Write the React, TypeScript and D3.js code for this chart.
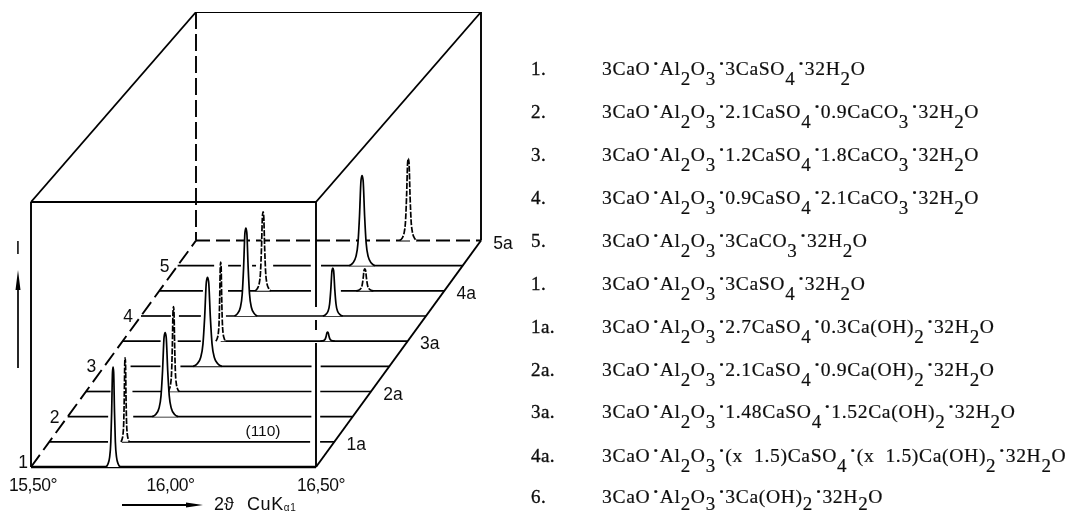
import React from "react";
import * as d3 from "d3";

const W = 1072, H = 515;
const INK = "#000";

// Stack: one trace per depth row, front (0) to back (9)
const rowDepths = [0, 1, 2, 3, 4, 5, 6, 7, 8, 9];

// Peaks (2theta in degrees, intensity in arbitrary units)
const peakRows = [0, 1, 2, 3, 4, 5, 5, 6, 6, 7, 7, 8, 9];
const peakAngles = [15.788, 15.766, 15.842, 15.807, 15.862, 15.844, 16.219, 15.868, 16.173, 15.864, 16.221, 16.147, 16.245];
const peakHeights = [100, 84, 84, 85, 89, 79, 9, 88, 48, 79, 22, 90, 82];
const peakDashed = [false, true, false, true, false, true, false, false, false, true, true, false, true];
const peakSpread = [1, 0.6, 1.8, 0.8, 2, 0.7, 1, 1.6, 1.4, 1.1, 1.2, 1.8, 1.2];

// Shared peak profile
const profileOffsets = [-0.025, -0.018, -0.012, -0.008, -0.005, -0.002, 0, 0.002, 0.005, 0.008, 0.012, 0.018, 0.025];
const profileLevels = [0, 0.03, 0.1, 0.25, 0.55, 0.95, 1, 0.95, 0.55, 0.25, 0.1, 0.03, 0];

// Breaks in each baseline, degrees
const rowGaps: number[][][] = [
  [],
  [[15.706, 15.755], [16.415, 16.45]],
  [[15.642, 15.73], [16.355, 16.386]],
  [[15.586, 15.663], [16.291, 16.322]],
  [[15.5, 15.592], [15.697, 15.767], [16.227, 16.259]],
  [[15.633, 15.693], [15.774, 15.844]],
  [[15.605, 15.633], [15.71, 15.798]],
  [[15.653, 15.741], [16.032, 16.137]],
  [[15.628, 15.677], [15.722, 15.761], [15.775, 15.835], [15.967, 16.003]],
  [],
];

const angleMin = 15.5, angleMax = 16.5, depthMax = 9;
const frontBoxTop = 265, backBoxTop = 228.5;

const axisTickAngles = [15.5, 16.0, 16.5];
const axisTickLabels = ["15,50°", "16,00°", "16,50°"];
const leftLabelRows = [0, 2, 4, 6, 8];
const leftLabels = ["1", "2", "3", "4", "5"];
const rightLabelRows = [1, 3, 5, 7, 9];
const rightLabels = ["1a", "2a", "3a", "4a", "5a"];

const legendKeys = ["1.", "2.", "3.", "4.", "5.", "1.", "1a.", "2a.", "3a.", "4a.", "6."];
const legendFormulas = [
  "3CaO˙Al_2O_3˙3CaSO_4˙32H_2O",
  "3CaO˙Al_2O_3˙2.1CaSO_4˙0.9CaCO_3˙32H_2O",
  "3CaO˙Al_2O_3˙1.2CaSO_4˙1.8CaCO_3˙32H_2O",
  "3CaO˙Al_2O_3˙0.9CaSO_4˙2.1CaCO_3˙32H_2O",
  "3CaO˙Al_2O_3˙3CaCO_3˙32H_2O",
  "3CaO˙Al_2O_3˙3CaSO_4˙32H_2O",
  "3CaO˙Al_2O_3˙2.7CaSO_4˙0.3Ca(OH)_2˙32H_2O",
  "3CaO˙Al_2O_3˙2.1CaSO_4˙0.9Ca(OH)_2˙32H_2O",
  "3CaO˙Al_2O_3˙1.48CaSO_4˙1.52Ca(OH)_2˙32H_2O",
  "3CaO˙Al_2O_3˙(x  1.5)CaSO_4˙(x  1.5)Ca(OH)_2˙32H_2O",
  "3CaO˙Al_2O_3˙3Ca(OH)_2˙32H_2O",
];
const legendBaselines = [75, 118, 161, 204, 247, 290, 333, 376, 418, 462, 503];

// Scales
const xAngle = d3.scaleLinear().domain([angleMin, angleMax]).range([31, 316]);
const depthX = d3.scaleLinear().domain([0, depthMax]).range([0, 165]);
const depthY = d3.scaleLinear().domain([0, depthMax]).range([467, 240.5]);
const intensityH = d3.scaleLinear().domain([0, frontBoxTop]).range([0, 265]);

const px = (angle: number, depth: number) => xAngle(angle) + depthX(depth);
const py = (intensity: number, depth: number) => depthY(depth) - intensityH(intensity);

const seg = (pts: [number, number][]) => d3.line()(pts) as string;

function Formula({ text, x, y, drop }: { text: string; x: number; y: number; drop: number }) {
  const parts = text.split(/(_\d)/).filter(Boolean);
  let pendingUp = false;
  return (
    <text x={x} y={y} fontFamily="'Liberation Serif'" fontSize={19.6} fill="#111" stroke="#111" strokeWidth={0.2} letterSpacing={0.65} style={{ whiteSpace: "pre" }}>
      {parts.map((p, i) => {
        if (p.startsWith("_")) {
          pendingUp = true;
          return (
            <tspan key={i} dy={drop} fontSize={19}>
              {p.slice(1)}
            </tspan>
          );
        }
        const dy = pendingUp ? -drop : 0;
        pendingUp = false;
        const pieces = p.split(/(˙)/).filter(Boolean);
        return (
          <tspan key={i} dy={dy}>
            {pieces.map((q, j) => (q === "˙" ? <tspan key={j} dx={2.3} fontWeight={700}>{q}</tspan> : <tspan key={j} dx={0}>{q}</tspan>))}
          </tspan>
        );
      })}
    </text>
  );
}

export default function App() {
  const front0 = py(0, 0), frontTop = py(frontBoxTop, 0);
  const xL = px(angleMin, 0), xR = px(angleMax, 0);
  const bL = px(angleMin, depthMax), bR = px(angleMax, depthMax);
  const backBase = py(0, depthMax), backTop = py(backBoxTop, depthMax);

  const baselines = rowDepths.map((d) => {
    const out: [number, number][] = [];
    let start = angleMin;
    rowGaps[d].forEach(([a, b]) => {
      if (a > start) out.push([start, a]);
      start = b;
    });
    out.push([start, angleMax]);
    return out;
  });

  const peakOrder = d3.range(peakRows.length).sort((a, b) => peakRows[b] - peakRows[a]);
  const peakLine = d3.line<[number, number]>().curve(d3.curveMonotoneX);

  const labelFont = "'Liberation Sans'";
  return (
    <svg width={W} height={H} viewBox={`0 0 ${W} ${H}`} style={{ position: "absolute", left: 0, top: 0, background: "#fff" }}>
      <defs>
        <filter id="scan" x="0" y="0" width="100%" height="100%">
          <feGaussianBlur stdDeviation="0.4" />
        </filter>
      </defs>
      <g filter="url(#scan)">
        {/* box */}
        <g fill="none" stroke={INK} strokeWidth={1.9}>
          <path d={seg([[xL, frontTop], [xR, frontTop]])} />
          <path d={seg([[xL, frontTop], [xL, front0]])} />
          <path d={seg([[xL, front0], [xR, front0]])} strokeWidth={2.3} />
          <path d={seg([[xL, frontTop], [bL, backTop]])} />
          <path d={seg([[bL, backTop], [bR, backTop]])} />
          <path d={seg([[bR, backTop], [bR, backBase]])} />
          <path d={seg([[xR, frontTop], [bR, backTop]])} />
          <path d={seg([[xR, front0], [bR, backBase]])} />
          <path d={seg([[bL, backTop], [bL, backBase]])} strokeDasharray="17 5" />
          <path d={seg([[xL, front0], [bL, backBase]])} strokeDasharray="15 6" />
          <path d={seg([[xR, frontTop], [xR, 307]])} />
          <path d={seg([[xR, 320], [xR, 330]])} />
          <path d={seg([[xR, 343], [xR, front0]])} />
        </g>
        {/* baselines */}
        <g fill="none" stroke={INK}>
          {baselines.map((segs, d) =>
            segs.map(([a, b], i) => (
              <path
                key={`${d}-${i}`}
                d={seg([[px(a, d), py(0, d)], [px(b, d), py(0, d)]])}
                strokeDasharray={d === depthMax ? "14 6" : undefined}
                strokeWidth={d === depthMax ? 2 : 1.7}
              />
            ))
          )}
        </g>
        {/* peaks */}
        {peakOrder.map((k) => {
          const d = peakRows[k];
          const pts = profileOffsets.map((o, i): [number, number] => [
            px(peakAngles[k] + o * peakSpread[k], d),
            py(peakHeights[k] * profileLevels[i], d),
          ]);
          return (
            <g key={k}>
              <path d={peakLine(pts) as string} fill="#fff" stroke="none" />
              <path
                d={peakLine(pts) as string}
                fill="none"
                stroke={INK}
                strokeWidth={1.7}
                strokeDasharray={peakDashed[k] ? "6 1.6" : undefined}
              />
            </g>
          );
        })}
        {/* labels on axes */}
        <g fontFamily={labelFont} fontSize={17.5} fill="#111" textAnchor="middle">
          {axisTickAngles.map((a, i) => (
            <text key={i} x={px(a, 0) + [2, -3, 5][i]} y={491} letterSpacing={-0.5}>
              {axisTickLabels[i]}
            </text>
          ))}
          {leftLabels.map((t, i) => {
            const d = leftLabelRows[i];
            return (
              <text key={t} x={px(angleMin, d) + (d === 0 ? -8 : -13)} y={py(0, d) + (d === 0 ? 1 : 6)}>
                {t}
              </text>
            );
          })}
          {rightLabels.map((t, i) => {
            const d = rightLabelRows[i];
            return (
              <text key={t} x={px(angleMax, d) + 22} y={py(0, d) + 8}>
                {t}
              </text>
            );
          })}
          <text x={263} y={436} fontSize={15.5}>(110)</text>
          <text x={18} y={254}>I</text>
        </g>
        {/* intensity arrow */}
        <path d={seg([[18, 368], [18, 285]])} stroke={INK} strokeWidth={1.7} fill="none" />
        <path d="M18,270 L20.5,290 L15.5,290 Z" fill={INK} />
        {/* angle arrow */}
        <path d={seg([[122, 505], [190, 505]])} stroke={INK} strokeWidth={1.8} fill="none" />
        <path d="M203,505 L186,502.5 L186,507.5 Z" fill={INK} />
        <text x={214} y={510} fontFamily={labelFont} fontSize={18} fill="#111">2ϑ</text>
        <text x={247} y={510} fontFamily={labelFont} fontSize={18} fill="#111" letterSpacing={0.6}>
          CuK<tspan dy={1} fontSize={10}>α1</tspan>
        </text>
      </g>
      {/* legend */}
      <g filter="url(#scan)">
        {legendKeys.map((k, i) => (
          <text key={i} x={531} y={legendBaselines[i]} fontFamily="'Liberation Serif'" fontSize={19} fill="#111" stroke="#111" strokeWidth={0.35} letterSpacing={0.4}>
            {k}
          </text>
        ))}
        {legendFormulas.map((f, i) => (
          <Formula key={i} text={f} x={602} y={legendBaselines[i]} drop={i === legendFormulas.length - 1 ? 7 : 10} />
        ))}
      </g>
    </svg>
  );
}
